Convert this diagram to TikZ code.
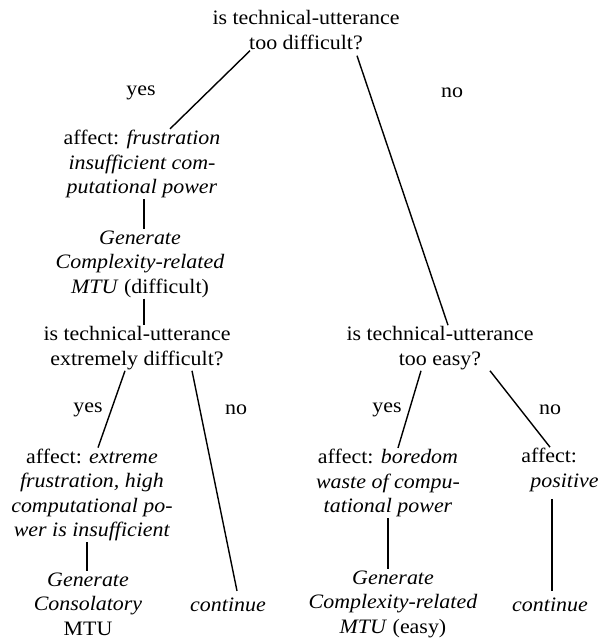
\documentclass[tikz,border=0pt]{standalone}
\usepackage{fontspec}
\setmainfont{Liberation Serif}[FakeStretch=1.07]

\begin{document}
\begin{tikzpicture}[x=1pt,y=-1pt,
   every node/.style={align=center,inner sep=1pt,font=\fontsize{20.5}{24.5}\selectfont},
   branch/.style={line width=1.4pt}]
   \useasboundingbox (0,0) rectangle (600,639);
   % first question
   \node (top) at (306,30) {is technical-utterance\\too difficult?};
   \node (yesA) at (141,93) {yes};
   \node (noA) at (452,93) {no};
   % left side: too difficult
   \node (frust) at (142,164) {affect: \textit{frustration}\\\textit{insufficient com-}\\\textit{putational power}};
   \node (gendiff) at (140,264) {\textit{Generate}\\\textit{Complexity-related}\\\textit{MTU} (difficult)};
   \node (extreme) at (137,348) {is technical-utterance\\extremely difficult?};
   \node (yesB) at (88,410) {yes};
   \node (noB) at (236,410) {no};
   \node (xfrust) at (92,495) {affect: \textit{extreme}\\\textit{frustration, high}\\\textit{computational po-}\\\textit{wer is insufficient}};
   \node (consol) at (88,604) {\textit{Generate}\\\textit{Consolatory}\\MTU};
   \node (contA) at (228,605) {\textit{continue}};
   % right side: too easy
   \node (easy) at (440,348) {is technical-utterance\\too easy?};
   \node (yesC) at (387,410) {yes};
   \node (noC) at (550,410) {no};
   \node (bored) at (388,483) {affect: \textit{boredom}\\\textit{waste of compu-}\\\textit{tational power}};
   \node (geneasy) at (393,604) {\textit{Generate}\\\textit{Complexity-related}\\\textit{MTU} (easy)};
   \node[align=left] (posit) at (560,470) {affect:\\\hspace{9pt}\textit{positive}};
   \node (contB) at (550,605) {\textit{continue}};
   % branches
   \draw[branch] ([xshift=-56pt]top.south) -- ([xshift=28pt]frust.north);
   \draw[branch] ([xshift=51pt,yshift=-5pt]top.south) -- ([xshift=8pt]easy.north);
   \draw[branch] ([xshift=2pt]frust.south) -- ([xshift=2pt]frust.south |- gendiff.north);
   \draw[branch] ([xshift=4pt]gendiff.south) -- ([xshift=4pt]gendiff.south |- extreme.north);
   \draw[branch] ([xshift=-12pt]extreme.south) -- ([xshift=6pt]xfrust.north);
   \draw[branch] ([xshift=55pt]extreme.south) -- ([xshift=9pt,yshift=6pt]contA.north);
   \draw[branch] ([xshift=-19pt]easy.south) -- ([xshift=10pt]bored.north);
   \draw[branch] ([xshift=50pt]easy.south) -- ([xshift=-10pt]posit.north);
   \draw[branch] ([xshift=-5pt]xfrust.south) -- ([xshift=-5pt]xfrust.south |- consol.north);
   \draw[branch] (bored.south) -- (bored.south |- geneasy.north);
   \draw[branch,shorten <=6pt,shorten >=6pt] ([xshift=-8pt]posit.south) -- ([xshift=-8pt]posit.south |- contB.north);
\end{tikzpicture}
\end{document}
